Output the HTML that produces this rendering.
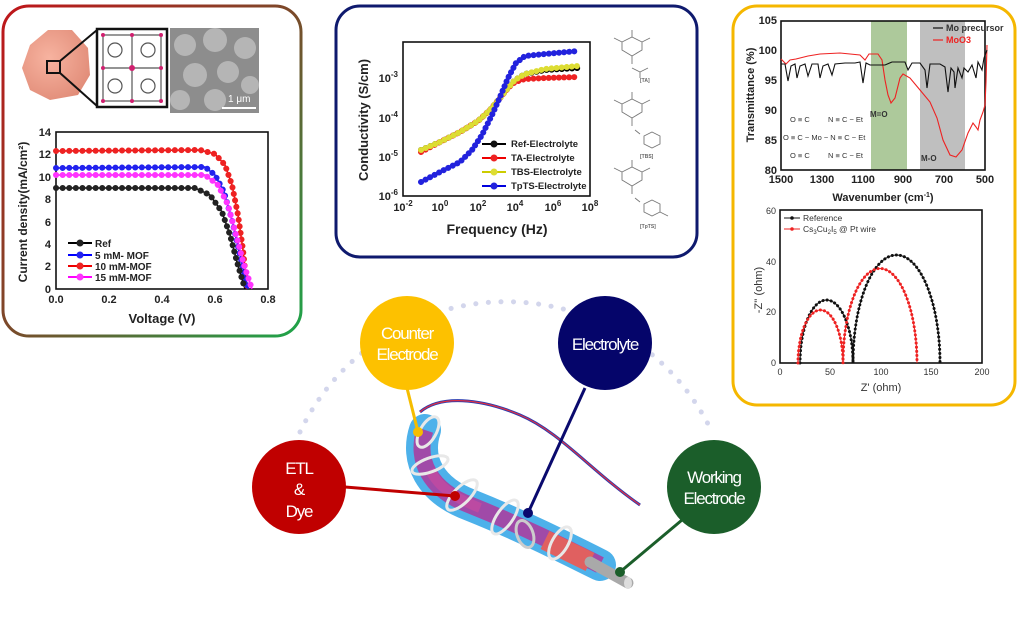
<!DOCTYPE html>
<html><head><meta charset="utf-8"><style>
html,body{margin:0;padding:0;background:#fff;width:1024px;height:622px;overflow:hidden}
svg{display:block}
text{font-family:"Liberation Sans",sans-serif}
.tk{font-size:11px;font-weight:bold;fill:#222}
.tk2{font-size:9px;fill:#333;font-family:"Liberation Serif",serif}
.ax{fill:none;stroke:#111;stroke-width:1.6}
.cl{font-size:17px;fill:#fff;text-anchor:middle;letter-spacing:-1.2px}
</style></head><body>
<svg width="1024" height="622" viewBox="0 0 1024 622" xmlns="http://www.w3.org/2000/svg">
<defs>
<linearGradient id="lb" x1="0" y1="0" x2="1" y2="1">
<stop offset="0" stop-color="#c0151a"/><stop offset="0.5" stop-color="#7a4a2a"/><stop offset="1" stop-color="#1ea54a"/></linearGradient>
<radialGradient id="blob" cx="0.4" cy="0.4" r="0.7"><stop offset="0" stop-color="#f7b3a0"/><stop offset="1" stop-color="#e08a76"/></radialGradient>
</defs>

<!-- LEFT PANEL -->
<rect x="3" y="6" width="298" height="330" rx="26" fill="#fff" stroke="url(#lb)" stroke-width="3"/>
<polygon points="30,45 48,30 72,30 88,48 90,75 78,95 50,100 30,90 22,68" fill="url(#blob)"/>
<rect x="47" y="61" width="13" height="12" fill="none" stroke="#111" stroke-width="2"/>
<line x1="60" y1="61" x2="97" y2="30" stroke="#111" stroke-width="2"/>
<line x1="60" y1="73" x2="97" y2="106" stroke="#111" stroke-width="2"/>
<rect x="97" y="29" width="70" height="78" fill="#fff" stroke="#111" stroke-width="2.5"/>
<g stroke="#555" stroke-width="1.2" fill="none">
<rect x="103" y="35" width="58" height="66"/><line x1="132" y1="35" x2="132" y2="101"/><line x1="103" y1="68" x2="161" y2="68"/>
<circle cx="115" cy="50" r="7"/><circle cx="148" cy="50" r="7"/><circle cx="115" cy="86" r="7"/><circle cx="148" cy="86" r="7"/></g>
<g fill="#d0206f"><circle cx="103" cy="35" r="2"/><circle cx="161" cy="35" r="2"/><circle cx="132" cy="68" r="3"/><circle cx="103" cy="101" r="2"/><circle cx="161" cy="101" r="2"/><circle cx="132" cy="35" r="2"/><circle cx="132" cy="101" r="2"/><circle cx="103" cy="68" r="2"/><circle cx="161" cy="68" r="2"/></g>
<rect x="170" y="28" width="89" height="85" fill="#8d8d8d"/>
<g fill="#b5b5b5"><circle cx="185" cy="45" r="11"/><circle cx="215" cy="40" r="12"/><circle cx="245" cy="48" r="11"/><circle cx="195" cy="75" r="12"/><circle cx="228" cy="72" r="11"/><circle cx="180" cy="100" r="10"/><circle cx="215" cy="100" r="11"/><circle cx="250" cy="85" r="9"/></g>
<line x1="222" y1="108" x2="256" y2="108" stroke="#fff" stroke-width="2"/>
<text x="228" y="102" font-size="10" fill="#fff">1 μm</text>

<rect x="56" y="132" width="212" height="157" class="ax"/>
<g class="tk" text-anchor="end">
<text x="51" y="136">14</text><text x="51" y="158">12</text><text x="51" y="181">10</text><text x="51" y="203">8</text><text x="51" y="226">6</text><text x="51" y="248">4</text><text x="51" y="270">2</text><text x="51" y="293">0</text></g>
<g class="tk" text-anchor="middle"><text x="56" y="303">0.0</text><text x="109" y="303">0.2</text><text x="162" y="303">0.4</text><text x="215" y="303">0.6</text><text x="268" y="303">0.8</text></g>
<text x="162" y="323" font-size="13" font-weight="bold" text-anchor="middle" fill="#222">Voltage (V)</text>
<text transform="translate(27,212) rotate(-90)" font-size="12" font-weight="bold" text-anchor="middle" fill="#222">Current density(mA/cm²)</text>
<g fill="none" stroke-width="1.5">
<path d="M56 151 L200 150 L215 154 L225 165 L232 185 L238 215 L243 250 L247 289" stroke="#e00"/>
<path d="M56 168 L205 167 L215 175 L224 192 L232 220 L240 255 L248 289" stroke="#00f"/>
<path d="M56 175 L205 175 L218 185 L228 205 L236 235 L244 265 L252 289" stroke="#f0f"/>
<path d="M56 188 L195 188 L210 195 L222 212 L230 235 L237 262 L245 289" stroke="#000"/>
</g>
<g fill="none" stroke-width="6" stroke-linecap="round" stroke-dasharray="0.1 6.5">
<path d="M56 151 L200 150 L215 154 L225 165 L232 185 L238 215 L243 250 L247 289" stroke="#e22"/>
<path d="M56 168 L205 167 L215 175 L224 192 L232 220 L240 255 L248 289" stroke="#22e"/>
<path d="M56 175 L205 175 L218 185 L228 205 L236 235 L244 265 L252 289" stroke="#f3f"/>
<path d="M56 188 L195 188 L210 195 L222 212 L230 235 L237 262 L245 289" stroke="#222"/>
</g>
<g font-size="10" font-weight="bold" fill="#222">
<line x1="68" y1="243" x2="92" y2="243" stroke="#000" stroke-width="2"/><circle cx="80" cy="243" r="3.5" fill="#222"/><text x="95" y="247">Ref</text>
<line x1="68" y1="255" x2="92" y2="255" stroke="#00f" stroke-width="2"/><circle cx="80" cy="255" r="3.5" fill="#22e"/><text x="95" y="259">5 mM- MOF</text>
<line x1="68" y1="266" x2="92" y2="266" stroke="#e00" stroke-width="2"/><circle cx="80" cy="266" r="3.5" fill="#e22"/><text x="95" y="270">10 mM-MOF</text>
<line x1="68" y1="277" x2="92" y2="277" stroke="#f0f" stroke-width="2"/><circle cx="80" cy="277" r="3.5" fill="#f3f"/><text x="95" y="281">15 mM-MOF</text>
</g>

<!-- MIDDLE PANEL -->
<rect x="336" y="6" width="361" height="251" rx="24" fill="#fff" stroke="#0f1a6e" stroke-width="3"/>
<rect x="403" y="42" width="187" height="154" class="ax"/>
<g class="tk" text-anchor="end">
<text x="398" y="82">10<tspan dy="-5" font-size="8">-3</tspan></text>
<text x="398" y="122">10<tspan dy="-5" font-size="8">-4</tspan></text>
<text x="398" y="161">10<tspan dy="-5" font-size="8">-5</tspan></text>
<text x="398" y="200">10<tspan dy="-5" font-size="8">-6</tspan></text></g>
<g class="tk" text-anchor="middle">
<text x="403" y="211">10<tspan dy="-5" font-size="8">-2</tspan></text><text x="440" y="211">10<tspan dy="-5" font-size="8">0</tspan></text>
<text x="478" y="211">10<tspan dy="-5" font-size="8">2</tspan></text><text x="515" y="211">10<tspan dy="-5" font-size="8">4</tspan></text>
<text x="553" y="211">10<tspan dy="-5" font-size="8">6</tspan></text><text x="590" y="211">10<tspan dy="-5" font-size="8">8</tspan></text></g>
<text x="497" y="234" font-size="14" font-weight="bold" text-anchor="middle" fill="#222">Frequency (Hz)</text>
<text transform="translate(368,120) rotate(-90)" font-size="13" font-weight="bold" text-anchor="middle" fill="#222">Conductivity (S/cm)</text>
<g fill="none" stroke-width="6" stroke-linecap="round" stroke-dasharray="0.1 5">
<path d="M421 150 L440 142 L460 132 L478 121 L490 110 L500 98 L508 88 L515 80 L525 74 L545 70 L578 68" stroke="#000"/>
<path d="M421 152 L440 142 L460 132 L478 121 L490 110 L500 98 L508 88 L515 82 L525 79 L545 78 L578 77" stroke="#e22"/>
<path d="M421 150 L440 142 L460 132 L478 121 L490 110 L500 98 L508 88 L515 80 L525 74 L545 69 L578 66" stroke="#dd3"/>
<path d="M421 182 L440 172 L460 162 L472 150 L482 135 L492 115 L500 97 L508 78 L516 63 L525 56 L545 54 L578 51" stroke="#22d"/>
</g>
<g font-size="9.5" font-weight="bold" fill="#222">
<line x1="482" y1="144" x2="506" y2="144" stroke="#000" stroke-width="2"/><circle cx="494" cy="144" r="3.5" fill="#111"/><text x="511" y="147">Ref-Electrolyte</text>
<line x1="482" y1="158" x2="506" y2="158" stroke="#e00" stroke-width="2"/><circle cx="494" cy="158" r="3.5" fill="#e22"/><text x="511" y="161">TA-Electrolyte</text>
<line x1="482" y1="172" x2="506" y2="172" stroke="#cc0" stroke-width="2"/><circle cx="494" cy="172" r="3.5" fill="#dd3"/><text x="511" y="175">TBS-Electrolyte</text>
<line x1="482" y1="186" x2="506" y2="186" stroke="#00d" stroke-width="2"/><circle cx="494" cy="186" r="3.5" fill="#22d"/><text x="511" y="189">TpTS-Electrolyte</text>
</g>
<g stroke="#777" stroke-width="0.9" fill="none">
<g><polygon points="632,37 642,42 642,50 632,56 622,50 622,42"/><line x1="632" y1="37" x2="632" y2="30"/><line x1="622" y1="42" x2="614" y2="38"/><line x1="642" y1="42" x2="650" y2="38"/><line x1="632" y1="56" x2="632" y2="64"/><polyline points="632,68 640,72 640,78"/><line x1="640" y1="72" x2="648" y2="68"/></g>
<g transform="translate(0,62)"><polygon points="632,37 642,42 642,50 632,56 622,50 622,42"/><line x1="632" y1="37" x2="632" y2="30"/><line x1="622" y1="42" x2="614" y2="38"/><line x1="642" y1="42" x2="650" y2="38"/><line x1="632" y1="56" x2="632" y2="64"/><line x1="635" y1="68" x2="640" y2="72"/><polygon points="652,70 660,74 660,82 652,86 644,82 644,74"/></g>
<g transform="translate(0,130)"><polygon points="632,37 642,42 642,50 632,56 622,50 622,42"/><line x1="632" y1="37" x2="632" y2="30"/><line x1="622" y1="42" x2="614" y2="38"/><line x1="642" y1="42" x2="650" y2="38"/><line x1="632" y1="56" x2="632" y2="64"/><line x1="635" y1="68" x2="640" y2="72"/><polygon points="652,70 660,74 660,82 652,86 644,82 644,74"/><line x1="660" y1="82" x2="668" y2="86"/></g>
</g>
<g font-size="5" fill="#666" font-weight="bold"><text x="640" y="82">[TA]</text><text x="640" y="158">[TBS]</text><text x="640" y="228">[TpTS]</text></g>

<!-- RIGHT PANEL -->
<rect x="733" y="6" width="282" height="399" rx="24" fill="#fff" stroke="#f5b700" stroke-width="3"/>
<rect x="871" y="21" width="36" height="149" fill="#9fbf8a" opacity="0.85"/>
<rect x="920" y="21" width="45" height="149" fill="#b8b8b8" opacity="0.9"/>
<rect x="781" y="21" width="204" height="149" class="ax" stroke-width="1.2"/>
<g class="tk" text-anchor="end" font-size="10"><text x="777" y="24">105</text><text x="777" y="54">100</text><text x="777" y="84">95</text><text x="777" y="114">90</text><text x="777" y="144">85</text><text x="777" y="174">80</text></g>
<g class="tk" text-anchor="middle" font-size="10"><text x="781" y="183">1500</text><text x="822" y="183">1300</text><text x="863" y="183">1100</text><text x="903" y="183">900</text><text x="944" y="183">700</text><text x="985" y="183">500</text></g>
<text x="883" y="201" font-size="11" font-weight="bold" text-anchor="middle" fill="#222">Wavenumber (cm<tspan dy="-4" font-size="7">-1</tspan><tspan dy="4">)</tspan></text>
<text transform="translate(754,95) rotate(-90)" font-size="11" font-weight="bold" text-anchor="middle" fill="#222">Transmittance (%)</text>
<polyline fill="none" stroke="#e22" stroke-width="1.1" points="781,59 786,64 790,60 796,59 800,58 808,56 820,54 840,53 860,55 865,60 869,54 878,54 882,60 885,80 888,95 891,103 895,98 900,78 903,74 910,78 920,90 930,102 937,118 943,140 950,155 956,157 962,150 968,133 973,123 976,127 978,130 980,120 983,112 985,105 986,82 987,45"/>
<polyline fill="none" stroke="#111" stroke-width="1.1" points="781,64 785,64 788,81 791,66 795,64 797,78 800,66 805,64 808,76 812,64 818,64 820,78 823,66 828,64 832,75 835,64 845,63 855,63 860,62 863,83 866,63 870,65 880,65 885,65 892,62 905,62 908,70 912,63 920,63 925,70 927,88 930,64 940,64 945,67 948,92 951,68 954,72 955,88 958,68 962,78 964,68 968,72 972,65 976,78 978,62 982,70 984,58 987,50"/>
<g font-size="8" fill="#333" font-weight="bold"><text x="870" y="117">M=O</text><text x="921" y="161">M-O</text></g>
<g font-size="7.5" fill="#333"><text x="790" y="122">O ≡ C</text><text x="828" y="122">N ≡ C − Et</text><text x="783" y="140">O ≡ C − Mo − N ≡ C − Et</text><text x="790" y="158">O ≡ C</text><text x="828" y="158">N ≡ C − Et</text></g>
<line x1="933" y1="28" x2="943" y2="28" stroke="#111" stroke-width="1.2"/><text x="946" y="31" font-size="9" font-weight="bold" fill="#333">Mo precursor</text>
<line x1="933" y1="40" x2="943" y2="40" stroke="#e22" stroke-width="1.2"/><text x="946" y="43" font-size="9" font-weight="bold" fill="#e22">MoO3</text>

<rect x="780" y="210" width="202" height="153" class="ax" stroke-width="1"/>
<g class="tk2" text-anchor="end"><text x="776" y="214">60</text><text x="776" y="265">40</text><text x="776" y="315">20</text><text x="776" y="366">0</text></g>
<g class="tk2" text-anchor="middle"><text x="780" y="375">0</text><text x="830" y="375">50</text><text x="881" y="375">100</text><text x="931" y="375">150</text><text x="982" y="375">200</text></g>
<text x="881" y="391" font-size="11" text-anchor="middle" fill="#333" font-family="Liberation Serif,serif">Z' (ohm)</text>
<text transform="translate(762,290) rotate(-90)" font-size="11" text-anchor="middle" fill="#333" font-family="Liberation Serif,serif">-Z'' (ohm)</text>
<g fill="none" stroke-width="1">
<path d="M800 363 A26.5 63 0 0 1 853 363 A43.5 108 0 0 1 940 363" stroke="#111"/>
<path d="M798 363 A22.5 53 0 0 1 843 363 A37 94.5 0 0 1 917 363" stroke="#e22"/>
</g>
<g fill="none" stroke-width="3" stroke-linecap="round" stroke-dasharray="0.1 4">
<path d="M800 363 A26.5 63 0 0 1 853 363 A43.5 108 0 0 1 940 363" stroke="#111"/>
<path d="M798 363 A22.5 53 0 0 1 843 363 A37 94.5 0 0 1 917 363" stroke="#e22"/>
</g>
<line x1="784" y1="218" x2="800" y2="218" stroke="#111"/><circle cx="792" cy="218" r="1.8" fill="#111"/>
<text x="803" y="221" font-size="8.5" fill="#333" font-family="Liberation Serif,serif">Reference</text>
<line x1="784" y1="229" x2="800" y2="229" stroke="#e22"/><circle cx="792" cy="229" r="1.8" fill="#e22"/>
<text x="803" y="232" font-size="8.5" fill="#333" font-family="Liberation Serif,serif">Cs<tspan font-size="6" dy="2">3</tspan><tspan dy="-2">Cu</tspan><tspan font-size="6" dy="2">2</tspan><tspan dy="-2">I</tspan><tspan font-size="6" dy="2">5</tspan><tspan dy="-2"> @ Pt wire</tspan></text>

<!-- BOTTOM: dotted arc -->
<path d="M300 432 A228 228 0 0 1 712 432" fill="none" stroke="#d3d6ec" stroke-width="5" stroke-linecap="round" stroke-dasharray="0.1 12.5"/>

<!-- cable -->
<path d="M420 412 C440 395 480 398 520 415 C560 432 590 470 640 505" fill="none" stroke="#2a3cb0" stroke-width="3"/>
<path d="M420 412 C440 395 480 398 520 415 C560 432 590 470 640 505" fill="none" stroke="#e03040" stroke-width="1.2"/>
<path d="M425 430 C415 460 430 490 470 505 C520 525 560 545 600 565" fill="none" stroke="#3aa8e8" stroke-width="32" stroke-linecap="round" opacity="0.9"/>
<path d="M425 430 C415 460 430 490 470 505 C520 525 560 545 600 565" fill="none" stroke="#a04aa8" stroke-width="17"/>
<path d="M430 470 C440 490 460 500 480 508" fill="none" stroke="#c84aa0" stroke-width="10" opacity="0.7"/>
<path d="M545 540 L590 562" stroke="#e06060" stroke-width="20"/>
<path d="M590 562 L628 583" stroke="#a9a9a9" stroke-width="11" stroke-linecap="round"/>
<ellipse cx="628" cy="583" rx="4" ry="6" fill="#ddd"/>
<g fill="none" stroke="#e8e8e8" stroke-width="3">
<ellipse cx="428" cy="432" rx="17" ry="8" transform="rotate(-60 428 432)"/>
<ellipse cx="430" cy="465" rx="19" ry="7" transform="rotate(-20 430 465)"/>
<ellipse cx="462" cy="495" rx="20" ry="8" transform="rotate(-45 462 495)"/>
<ellipse cx="505" cy="517" rx="20" ry="8" transform="rotate(-55 505 517)"/>
<ellipse cx="560" cy="543" rx="18" ry="8" transform="rotate(-60 560 543)"/>
<ellipse cx="525" cy="534" rx="8" ry="14" transform="rotate(-20 525 534)" stroke="#ccc"/>
</g>

<!-- connectors -->
<line x1="407" y1="388" x2="418" y2="432" stroke="#f5bd00" stroke-width="3"/><circle cx="418" cy="432" r="5" fill="#f5bd00"/>
<line x1="585" y1="388" x2="528" y2="513" stroke="#0a0a6e" stroke-width="3"/><circle cx="528" cy="513" r="5" fill="#0a0a6e"/>
<line x1="345" y1="487" x2="455" y2="496" stroke="#c00000" stroke-width="3"/><circle cx="455" cy="496" r="5" fill="#c00000"/>
<line x1="682" y1="520" x2="620" y2="572" stroke="#1b5e2a" stroke-width="3"/><circle cx="620" cy="572" r="5" fill="#1b5e2a"/>

<!-- circles -->
<circle cx="407" cy="343" r="47" fill="#fdc100"/>
<text class="cl" x="407" y="339">Counter</text><text class="cl" x="407" y="360">Electrode</text>
<circle cx="605" cy="343" r="47" fill="#05056a"/>
<text class="cl" x="605" y="350">Electrolyte</text>
<circle cx="299" cy="487" r="47" fill="#c00000"/>
<text class="cl" x="299" y="474">ETL</text><text class="cl" x="299" y="495">&amp;</text><text class="cl" x="299" y="517">Dye</text>
<circle cx="714" cy="487" r="47" fill="#1b5e2a"/>
<text class="cl" x="714" y="483">Working</text><text class="cl" x="714" y="504">Electrode</text>
</svg>
</body></html>
